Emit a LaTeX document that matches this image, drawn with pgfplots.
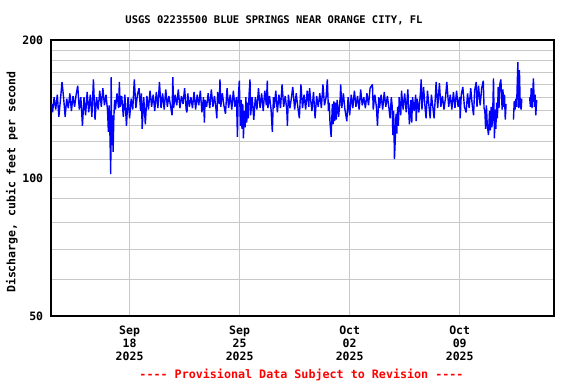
\documentclass[border=0pt]{standalone}
\usepackage{fontspec}
\setmainfont{DejaVu Sans Mono}
\usepackage{pgfplots}
\pgfplotsset{compat=1.18}
\definecolor{gridgray}{RGB}{200,200,200}
\definecolor{datablue}{RGB}{0,0,255}
\definecolor{provred}{RGB}{255,0,0}
\newcommand{\lblfont}{\fontsize{11.5bp}{12.7bp}\selectfont\bfseries}
\begin{document}
\begin{tikzpicture}[x=1bp,y=1bp]
\path[use as bounding box] (0,0) rectangle (576,384);
\begin{axis}[
  at={(51bp,68bp)}, anchor=south west,
  scale only axis, width=503bp, height=276bp,
  xmin=0, xmax=32, ymin=50, ymax=200, ymode=log,
  xtick={5,12,19,26},
  xticklabels={{Sep\\18\\2025},{Sep\\25\\2025},{Oct\\02\\2025},{Oct\\09\\2025}},
  xticklabel style={align=center, font=\lblfont, inner sep=0pt, yshift=-10bp},
  ytick={50,100,200}, yticklabels={50,100,200},
  minor ytick={60,70,80,90,110,120,130,140,150,160,170,180,190},
  yticklabel style={font=\lblfont, inner sep=0pt, xshift=-7.7bp},
  /pgf/number format/assume math mode=true,
  grid=both,
  major grid style={gridgray, line width=1bp},
  minor grid style={gridgray, line width=1bp},
  major tick length=0pt, minor tick length=0pt,
  axis line style={line width=1.2bp, black},
  unbounded coords=jump,
]
\addplot[datablue, line width=1.4bp, mark=none, line join=miter, miter limit=1] coordinates {
(0.05,145)(0.1,139)(0.2,150)(0.3,141)(0.4,152)(0.5,136)(0.6,148)(0.7,162)(0.8,150)(0.9,136)
(1.0,149)(1.1,142)(1.2,153)(1.3,140)(1.4,151)(1.5,143)(1.6,152)(1.7,159)(1.8,141)(1.9,150)
(2.0,130)(2.1,150)(2.2,137)(2.3,154)(2.4,139)(2.5,152)(2.6,136)(2.7,164)(2.8,134)(2.9,150)
(3.0,141)(3.1,155)(3.2,143)(3.3,157)(3.4,144)(3.5,152)
(3.6,140)(3.65,126)(3.7,144)(3.75,124)(3.8,102)(3.83,166)(3.86,118)(3.9,137)(3.95,114)(4.0,136)(4.05,148)
(4.1,141)(4.2,153)(4.3,142)(4.35,162)(4.4,143)(4.5,151)(4.6,136)(4.7,152)(4.8,130)(4.9,150)
(5.0,135)(5.1,149)(5.2,141)(5.3,164)(5.4,142)(5.5,152)(5.6,157)(5.7,140)(5.75,153)(5.8,128)(5.9,150)
(6.0,131)(6.1,151)(6.2,141)(6.3,155)(6.4,143)(6.5,152)(6.6,140)(6.7,154)(6.8,142)(6.9,162)
(7.0,142)(7.1,153)(7.2,141)(7.3,156)(7.4,143)(7.5,151)(7.6,144)(7.7,137)(7.75,166)(7.8,142)(7.9,152)
(8.0,144)(8.1,156)(8.2,142)(8.3,151)(8.4,145)(8.5,157)(8.6,141)(8.65,139)(8.7,153)(8.8,143)(8.9,150)
(9.0,142)(9.1,154)(9.2,141)(9.3,152)(9.4,144)(9.5,155)(9.6,139)(9.7,150)(9.76,132)(9.8,148)(9.9,143)
(10.0,153)(10.1,142)(10.2,156)(10.3,143)(10.4,151)(10.5,141)(10.55,135)(10.6,154)(10.7,145)(10.75,164)(10.8,143)(10.9,153)
(11.0,144)(11.1,138)(11.2,157)(11.3,142)(11.4,152)(11.5,141)(11.6,155)(11.7,143)
(11.8,150)(11.86,123)(11.9,146)(11.98,163)(12.05,130)(12.1,148)(12.15,128)(12.2,145)(12.24,122)(12.3,140)(12.35,129)(12.4,150)(12.45,132)(12.5,146)(12.55,135)(12.6,152)(12.66,164)(12.7,137)(12.8,150)(12.9,134)
(13.0,150)(13.1,141)(13.2,157)(13.3,142)(13.4,153)(13.5,140)(13.6,155)(13.7,144)(13.76,163)(13.8,142)(13.9,151)
(14.0,141)(14.08,126)(14.15,150)(14.2,142)(14.3,155)(14.4,139)(14.5,152)(14.6,142)(14.7,160)(14.8,143)(14.9,151)
(15.0,141)(15.04,130)(15.1,152)(15.2,142)(15.3,150)(15.38,158)(15.5,141)(15.6,153)(15.7,143)(15.8,135)(15.9,160)
(16.0,142)(16.1,152)(16.2,141)(16.3,155)(16.4,143)(16.45,157)(16.5,150)(16.6,140)(16.7,154)(16.8,135)(16.9,151)
(17.0,143)(17.1,153)(17.2,142)(17.3,160)(17.4,144)(17.5,150)
(17.58,164)(17.65,140)(17.7,146)(17.75,132)(17.82,123)(17.9,145)(17.95,131)(18.0,147)(18.05,133)(18.1,146)(18.15,134)(18.2,148)(18.3,136)(18.4,150)
(18.43,160)(18.5,142)(18.6,153)(18.7,141)(18.82,133)(18.9,150)
(19.0,137)(19.1,152)(19.2,142)(19.3,155)(19.4,143)(19.5,151)(19.6,141)(19.7,156)(19.8,144)(19.9,150)
(20.0,142)(20.1,153)(20.2,144)(20.3,157)(20.45,160)(20.5,141)(20.6,152)(20.7,143)(20.77,130)(20.85,150)(20.9,142)
(21.0,152)(21.1,141)(21.2,154)(21.3,143)(21.4,151)(21.5,142)(21.57,135)(21.65,150)
(21.7,144)(21.75,124)(21.8,140)(21.85,110)(21.9,121)(21.95,138)(22.0,125)(22.05,143)(22.1,130)
(22.15,150)(22.25,137)(22.3,155)(22.4,141)(22.5,153)(22.6,139)(22.7,156)(22.8,131)(22.9,148)
(22.95,132)(23.0,150)(23.1,140)(23.2,152)(23.23,133)(23.3,149)(23.4,139)(23.5,153)
(23.55,164)(23.6,141)(23.7,158)(23.8,142)(23.86,135)(23.95,155)(24.05,143)(24.12,135)(24.2,152)
(24.3,142)(24.37,135)(24.45,150)(24.5,162)(24.6,142)(24.71,161)(24.8,143)(24.9,151)(25.0,141)
(25.1,150)(25.18,162)(25.3,143)(25.4,152)(25.5,141)(25.6,154)(25.7,142)
(25.8,155)(25.9,143)(26.0,150)(26.03,135)(26.1,152)
(26.2,158)(26.3,143)(26.41,139)(26.5,153)(26.6,142)
(26.7,157)(26.8,144)(26.88,137)(26.95,155)(27.05,162)(27.1,143)(27.2,159)(27.3,144)
(27.4,157)(27.5,163)(27.55,142)
(27.6,140)(27.65,128)(27.7,144)(27.75,131)(27.83,124)(27.9,140)(27.95,127)(28.0,143)(28.05,129)(28.1,138)(28.15,165)(28.21,122)(28.25,141)(28.3,128)(28.35,146)
(28.4,135)(28.45,158)(28.5,142)(28.55,160)(28.62,164)(28.7,141)(28.75,156)(28.8,143)(28.85,152)(28.9,134)(28.95,145)
(29.1,nan)
(29.42,134)(29.47,147)(29.52,141)(29.57,149)(29.62,143)(29.7,179)(29.75,142)(29.8,172)(29.85,144)(29.91,141)(29.95,149)
(30.2,nan)
(30.45,150)(30.5,143)(30.55,157)(30.6,142)(30.65,154)(30.69,165)(30.75,143)(30.8,152)(30.84,137)(30.9,148)
};
\end{axis}
\node[font=\fontsize{10.5bp}{12bp}\selectfont\bfseries, inner sep=0pt] at (274,363.5) {USGS 02235500 BLUE SPRINGS NEAR ORANGE CITY, FL};
\node[font=\lblfont, inner sep=0pt, rotate=90] at (12,202) {Discharge, cubic feet per second};
\node[font=\fontsize{11.7bp}{13bp}\selectfont\bfseries, text=provred, inner sep=0pt] at (301.5,9) {-{}-{}-{}- Provisional Data Subject to Revision -{}-{}-{}-};
\end{tikzpicture}
\end{document}
